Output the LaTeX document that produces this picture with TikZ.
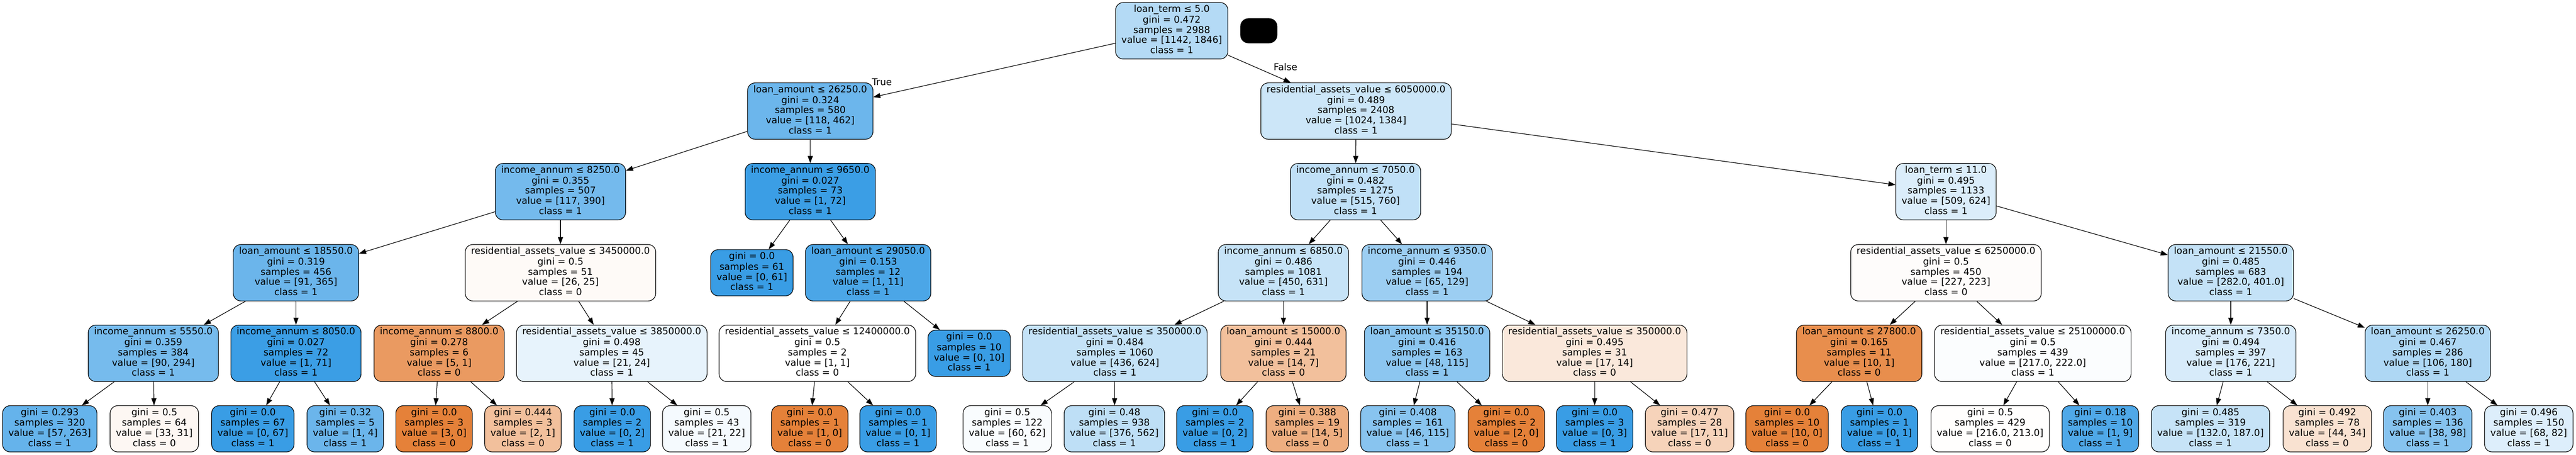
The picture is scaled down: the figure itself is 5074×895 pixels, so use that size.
\documentclass[tikz,border=0pt]{standalone}
\usepackage{fontspec}
\setmainfont{DejaVu Sans}
\usetikzlibrary{arrows.meta}
\definecolor{czero}{RGB}{229,129,57}
\definecolor{cone}{RGB}{57,157,229}
\newcommand\treefont{\fontsize{18.5}{20}\selectfont}
\newcommand\splitn[5]{\strut#1\\gini = #2\\samples = #3\\value = [#4]\\class = #5\strut}
\newcommand\leafn[4]{\strut gini = #1\\samples = #2\\value = [#3]\\class = #4\strut}
\tikzset{
  tn/.style={draw=black, line width=1.2pt, rounded corners=15pt, align=center,
    inner xsep=11.5pt, inner ysep=0pt, font=\treefont, text=black},
  sp/.style={tn, minimum height=111pt},
  lf/.style={tn, minimum height=91pt},
  edge/.style={line width=1.2pt, draw=black, -{Triangle[length=14pt,width=10pt]}},
  elab/.style={inner sep=0pt, font=\treefont}
}
\begin{document}
\begin{tikzpicture}[x=1pt,y=-1pt]
\useasboundingbox (0,0) rectangle (5074,895);
\fill[white] (0,0) rectangle (5074,895);
% level 0
\node[sp, fill=cone!38!white] (r) at (2308,60.5) {\splitn{loan\_term ≤ 5.0}{0.472}{2988}{1142, 1846}{1}};
\node[fill=black, rounded corners=16pt, minimum width=73pt, minimum height=49pt, inner sep=0pt] (blk) at (2479.5,60.5) {};
% level 1
\node[sp, fill=cone!74!white] (a) at (1596,218.5) {\splitn{loan\_amount ≤ 26250.0}{0.324}{580}{118, 462}{1}};
\node[sp, fill=cone!26!white] (rv) at (2671,218.5) {\splitn{residential\_assets\_value ≤ 6050000.0}{0.489}{2408}{1024, 1384}{1}};
% level 2
\node[sp, fill=cone!70!white] (b) at (1104,377) {\splitn{income\_annum ≤ 8250.0}{0.355}{507}{117, 390}{1}};
\node[sp, fill=cone!99!white] (i) at (1596,377) {\splitn{income\_annum ≤ 9650.0}{0.027}{73}{1, 72}{1}};
\node[sp, fill=cone!32!white] (m) at (2670,377) {\splitn{income\_annum ≤ 7050.0}{0.482}{1275}{515, 760}{1}};
\node[sp, fill=cone!18!white] (u) at (3833,377) {\splitn{loan\_term ≤ 11.0}{0.495}{1133}{509, 624}{1}};
% level 3
\node[sp, fill=cone!75!white] (c) at (583,536.5) {\splitn{loan\_amount ≤ 18550.0}{0.319}{456}{91, 365}{1}};
\node[sp, fill=czero!4!white] (f) at (1104,536.5) {\splitn{residential\_assets\_value ≤ 3450000.0}{0.5}{51}{26, 25}{0}};
\node[lf, fill=cone] (i1) at (1481,536.5) {\leafn{0.0}{61}{0, 61}{1}};
\node[sp, fill=cone!91!white] (j) at (1710,536.5) {\splitn{loan\_amount ≤ 29050.0}{0.153}{12}{1, 11}{1}};
\node[sp, fill=cone!29!white] (n) at (2528,536.5) {\splitn{income\_annum ≤ 6850.0}{0.486}{1081}{450, 631}{1}};
\node[sp, fill=cone!50!white] (q) at (2811,536.5) {\splitn{income\_annum ≤ 9350.0}{0.446}{194}{65, 129}{1}};
\node[sp, fill=czero!2!white] (v) at (3833,536.5) {\splitn{residential\_assets\_value ≤ 6250000.0}{0.5}{450}{227, 223}{0}};
\node[sp, fill=cone!30!white] (y) at (4394,536.5) {\splitn{loan\_amount ≤ 21550.0}{0.485}{683}{282.0, 401.0}{1}};
% level 4
\node[sp, fill=cone!69!white] (d) at (302,695) {\splitn{income\_annum ≤ 5550.0}{0.359}{384}{90, 294}{1}};
\node[sp, fill=cone!99!white] (e) at (583,695) {\splitn{income\_annum ≤ 8050.0}{0.027}{72}{1, 71}{1}};
\node[sp, fill=czero!80!white] (g) at (865,695) {\splitn{income\_annum ≤ 8800.0}{0.278}{6}{5, 1}{0}};
\node[sp, fill=cone!12!white] (h) at (1205,695) {\splitn{residential\_assets\_value ≤ 3850000.0}{0.498}{45}{21, 24}{1}};
\node[sp, fill=white] (k) at (1610,695) {\splitn{residential\_assets\_value ≤ 12400000.0}{0.5}{2}{1, 1}{0}};
\node[lf, fill=cone] (j2) at (1909,695) {\leafn{0.0}{10}{0, 10}{1}};
\node[sp, fill=cone!30!white] (o) at (2196,695) {\splitn{residential\_assets\_value ≤ 350000.0}{0.484}{1060}{436, 624}{1}};
\node[sp, fill=czero!50!white] (p) at (2528,695) {\splitn{loan\_amount ≤ 15000.0}{0.444}{21}{14, 7}{0}};
\node[sp, fill=cone!58!white] (s) at (2811,695) {\splitn{loan\_amount ≤ 35150.0}{0.416}{163}{48, 115}{1}};
\node[sp, fill=czero!18!white] (t) at (3141,695) {\splitn{residential\_assets\_value ≤ 350000.0}{0.495}{31}{17, 14}{0}};
\node[sp, fill=czero!90!white] (w) at (3662,695) {\splitn{loan\_amount ≤ 27800.0}{0.165}{11}{10, 1}{0}};
\node[sp, fill=cone!2!white] (x) at (4004,695) {\splitn{residential\_assets\_value ≤ 25100000.0}{0.5}{439}{217.0, 222.0}{1}};
\node[sp, fill=cone!20!white] (z) at (4394,695) {\splitn{income\_annum ≤ 7350.0}{0.494}{397}{176, 221}{1}};
\node[sp, fill=cone!41!white] (aa) at (4782,695) {\splitn{loan\_amount ≤ 26250.0}{0.467}{286}{106, 180}{1}};
% level 5
\node[lf, fill=cone!78!white] (d1) at (98,843.5) {\leafn{0.293}{320}{57, 263}{1}};
\node[lf, fill=czero!6!white] (d2) at (304,843.5) {\leafn{0.5}{64}{33, 31}{0}};
\node[lf, fill=cone] (e1) at (498,843.5) {\leafn{0.0}{67}{0, 67}{1}};
\node[lf, fill=cone!75!white] (e2) at (680,843.5) {\leafn{0.32}{5}{1, 4}{1}};
\node[lf, fill=czero] (g1) at (855,843.5) {\leafn{0.0}{3}{3, 0}{0}};
\node[lf, fill=czero!50!white] (g2) at (1030,843.5) {\leafn{0.444}{3}{2, 1}{0}};
\node[lf, fill=cone] (h1) at (1206,843.5) {\leafn{0.0}{2}{0, 2}{1}};
\node[lf, fill=cone!5!white] (h2) at (1392,843.5) {\leafn{0.5}{43}{21, 22}{1}};
\node[lf, fill=czero] (k1) at (1595,843.5) {\leafn{0.0}{1}{1, 0}{0}};
\node[lf, fill=cone] (k2) at (1769,843.5) {\leafn{0.0}{1}{0, 1}{1}};
\node[lf, fill=cone!3!white] (o1) at (1984,843.5) {\leafn{0.5}{122}{60, 62}{1}};
\node[lf, fill=cone!33!white] (o2) at (2195,843.5) {\leafn{0.48}{938}{376, 562}{1}};
\node[lf, fill=cone] (p1) at (2393,843.5) {\leafn{0.0}{2}{0, 2}{1}};
\node[lf, fill=czero!64!white] (p2) at (2575,843.5) {\leafn{0.388}{19}{14, 5}{0}};
\node[lf, fill=cone!60!white] (s1) at (2773,843.5) {\leafn{0.408}{161}{46, 115}{1}};
\node[lf, fill=czero] (s2) at (2967,843.5) {\leafn{0.0}{2}{2, 0}{0}};
\node[lf, fill=cone] (t1) at (3141,843.5) {\leafn{0.0}{3}{0, 3}{1}};
\node[lf, fill=czero!35!white] (t2) at (3328,843.5) {\leafn{0.477}{28}{17, 11}{0}};
\node[lf, fill=czero] (w1) at (3520,843.5) {\leafn{0.0}{10}{10, 0}{0}};
\node[lf, fill=cone] (w2) at (3702,843.5) {\leafn{0.0}{1}{0, 1}{1}};
\node[lf, fill=czero!1!white] (x1) at (3920,843.5) {\leafn{0.5}{429}{216.0, 213.0}{0}};
\node[lf, fill=cone!89!white] (x2) at (4137,843.5) {\leafn{0.18}{10}{1, 9}{1}};
\node[lf, fill=cone!29!white] (z1) at (4354,843.5) {\leafn{0.485}{319}{132.0, 187.0}{1}};
\node[lf, fill=czero!23!white] (z2) at (4584,843.5) {\leafn{0.492}{78}{44, 34}{0}};
\node[lf, fill=cone!61!white] (aa1) at (4782,843.5) {\leafn{0.403}{136}{38, 98}{1}};
\node[lf, fill=cone!17!white] (aa2) at (4981,843.5) {\leafn{0.496}{150}{68, 82}{1}};
% edge labels
\node[elab] (tl) at (1737,161) {True};
\node[elab] (fl) at (2532,132) {False};
% edges
\foreach \u/\v in {r/a, r/rv, a/b, a/i, b/c, b/f, c/d, c/e, d/d1, d/d2, e/e1, e/e2,
  f/g, f/h, g/g1, g/g2, h/h1, h/h2, i/i1, i/j, j/k, j/j2, k/k1, k/k2,
  rv/m, rv/u, m/n, m/q, n/o, n/p, o/o1, o/o2, p/p1, p/p2, q/s, q/t, s/s1, s/s2,
  t/t1, t/t2, u/v, u/y, v/w, v/x, w/w1, w/w2, x/x1, x/x2, y/z, y/aa, z/z1, z/z2,
  aa/aa1, aa/aa2}
  \draw[edge] (\u) -- (\v);
\end{tikzpicture}
\end{document}
